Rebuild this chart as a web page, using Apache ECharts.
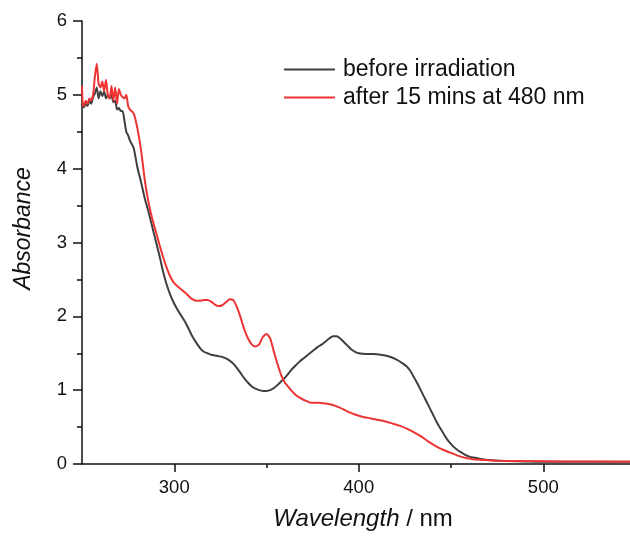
<!DOCTYPE html>
<html><head><meta charset="utf-8">
<script src="https://cdn.jsdelivr.net/npm/echarts@6/dist/echarts.min.js"></script>
<style>html,body{margin:0;padding:0;background:#fff}#c{width:630px;height:536px}</style>
</head><body><div id="c"></div>
<script>
const seriesNames = ['before irradiation', 'after 15 mins at 480 nm'];
const xTicks = [300, 400, 500];
const xMinorTicks = [350, 450];

const beforeX = [250,251,252,253,254,255,256,257,258,259,260,261,262,263,264,265,266,267,268,269,270,271,272,273,274,275,276,278,280,282,284,286,288,290,292,294,296,298,300,302,304,306,308,310,312,314,316,318,320,322,324,326,328,330,332,334,336,338,340,342,344,346,348,350,352,354,356,358,360,362,364,366,368,370,372,374,376,378,380,382,384,386,388,390,392,394,396,398,400,404,408,412,416,420,424,426,428,430,432,434,436,438,440,442,444,446,448,450,452,454,456,458,460,464,468,472,480,490,500,520,547];
const beforeY = [4.90,4.83,4.88,4.85,4.92,4.88,4.97,5.02,5.10,4.95,5.05,4.98,5.05,4.95,5.00,4.95,5.00,4.90,4.92,4.80,4.82,4.78,4.78,4.65,4.50,4.45,4.38,4.28,4.02,3.82,3.60,3.42,3.22,3.02,2.82,2.60,2.42,2.28,2.17,2.08,2.00,1.92,1.82,1.72,1.64,1.57,1.52,1.50,1.48,1.47,1.46,1.45,1.43,1.40,1.36,1.30,1.23,1.16,1.10,1.05,1.02,1.00,0.99,0.99,1.00,1.03,1.07,1.12,1.17,1.23,1.29,1.34,1.39,1.43,1.47,1.51,1.55,1.59,1.62,1.66,1.70,1.73,1.73,1.70,1.65,1.60,1.55,1.52,1.50,1.49,1.49,1.48,1.46,1.42,1.36,1.32,1.26,1.17,1.08,0.98,0.88,0.78,0.68,0.58,0.49,0.41,0.33,0.27,0.22,0.18,0.15,0.12,0.10,0.08,0.06,0.05,0.04,0.035,0.03,0.03,0.03];

const afterX = [250,250.5,251,252,253,254,255,256,257,258,259,260,261,262,263,264,265,266,267,268,269,270,271,272,273,274,275,276,278,280,282,284,286,288,290,292,294,296,298,300,302,304,306,308,310,312,314,316,318,320,322,324,326,328,330,332,334,336,338,340,342,344,346,348,350,352,354,356,358,360,362,364,366,368,370,372,374,378,382,386,390,394,398,402,406,410,414,418,422,426,430,434,438,442,446,450,454,458,462,468,476,490,510,547];
const afterY = [5.12,4.85,4.85,4.92,4.88,4.95,4.93,5.00,5.25,5.42,5.15,5.10,5.18,5.05,5.20,5.00,4.95,5.12,4.92,5.10,4.88,5.08,5.00,4.97,4.95,5.00,4.85,4.80,4.75,4.55,4.25,3.85,3.55,3.33,3.15,2.97,2.80,2.65,2.53,2.45,2.40,2.36,2.32,2.27,2.23,2.21,2.21,2.22,2.22,2.20,2.16,2.14,2.15,2.19,2.23,2.22,2.12,1.98,1.82,1.70,1.62,1.59,1.62,1.72,1.76,1.70,1.52,1.35,1.20,1.10,1.04,0.98,0.93,0.90,0.87,0.85,0.83,0.83,0.82,0.80,0.76,0.71,0.67,0.64,0.62,0.60,0.58,0.55,0.52,0.48,0.43,0.37,0.30,0.24,0.19,0.15,0.11,0.08,0.065,0.055,0.045,0.04,0.035,0.03];

const zip = (xs, ys) => xs.map((x, i) => [x, ys[i]]);
const FONT = 'Liberation Sans, Arial, sans-serif';
const INK = '#111';
const chart = echarts.init(document.getElementById('c'), null, {renderer: 'canvas'});
chart.setOption({
  animation: false,
  backgroundColor: '#fff',
  grid: {left: 82, right: 0, top: 21, bottom: 69},
  legend: {
    orient: 'vertical', left: 284, top: 58, padding: 0,
    icon: 'rect', itemWidth: 51, itemHeight: 2, itemGap: 5,
    data: seriesNames,
    textStyle: {fontFamily: FONT, fontSize: 23, color: INK, padding: [0, 0, 0, 3]}
  },
  xAxis: [{
    type: 'value', min: 250, max: 547, interval: 50,
    name: '{i|Wavelength} / nm', nameLocation: 'middle', nameGap: 43,
    nameTextStyle: {fontFamily: FONT, fontSize: 24, color: INK, padding: [0, 0, 0, 14],
      rich: {i: {fontStyle: 'italic', fontFamily: FONT, fontSize: 24, color: INK}}},
    axisLine: {show: true, onZero: false, lineStyle: {color: INK, width: 1.5}},
    axisTick: {show: true, inside: false, length: 8, lineStyle: {color: INK, width: 1.5}, customValues: xTicks},
    axisLabel: {fontFamily: FONT, fontSize: 18.5, color: INK, margin: 14, customValues: xTicks},
    splitLine: {show: false}
  }, {
    type: 'value', min: 250, max: 547, interval: 50, position: 'bottom', gridIndex: 0,
    axisLine: {show: false},
    axisTick: {show: true, inside: false, length: 4, lineStyle: {color: INK, width: 1.5}, customValues: xMinorTicks},
    axisLabel: {show: false},
    splitLine: {show: false}
  }],
  yAxis: {
    type: 'value', min: 0, max: 6, interval: 1,
    name: 'Absorbance', nameLocation: 'middle', nameGap: 47,
    nameTextStyle: {fontFamily: FONT, fontSize: 23, fontStyle: 'italic', color: INK, padding: [0, 0, 0, 28]},
    axisLine: {show: true, lineStyle: {color: INK, width: 1.5}},
    axisTick: {show: true, inside: false, length: 9, lineStyle: {color: INK, width: 1.5}},
    minorTick: {show: true, splitNumber: 2, length: 5, lineStyle: {color: INK, width: 1.5}},
    axisLabel: {fontFamily: FONT, fontSize: 18.5, color: INK, margin: 15},
    splitLine: {show: false}
  },
  series: [
    {name: seriesNames[0], type: 'line', data: zip(beforeX, beforeY), symbol: 'none', smooth: 0.2,
      lineStyle: {color: '#3f3f3f', width: 2}, itemStyle: {color: '#3f3f3f'}},
    {name: seriesNames[1], type: 'line', data: zip(afterX, afterY), symbol: 'none', smooth: 0.2,
      lineStyle: {color: '#ee3333', width: 2}, itemStyle: {color: '#ee3333'}}
  ]
});
</script></body></html>
